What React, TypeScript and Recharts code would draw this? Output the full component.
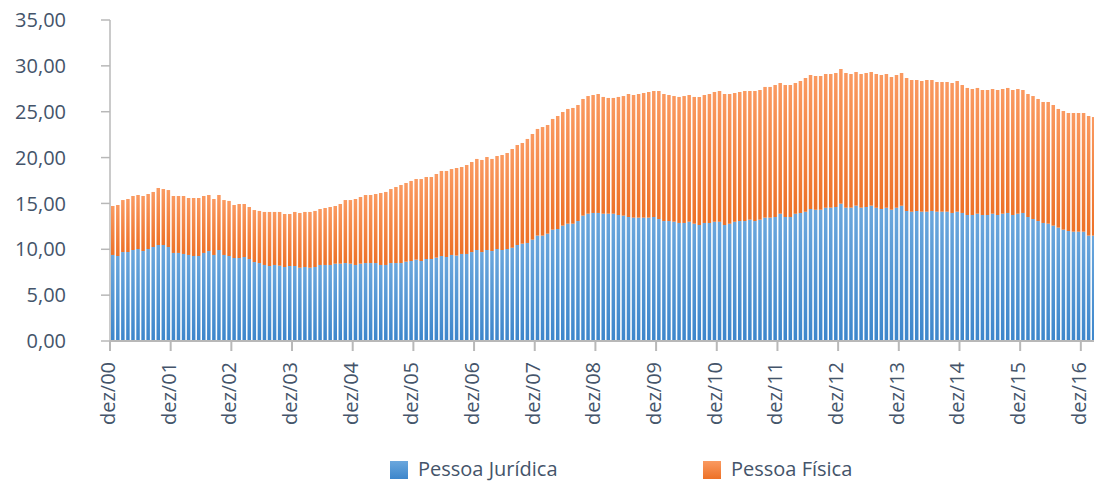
import { BarChart, Bar, XAxis, YAxis, Legend } from "recharts";

const MONTHS = ["jan", "fev", "mar", "abr", "mai", "jun", "jul", "ago", "set", "out", "nov", "dez"];

// Pessoa Jurídica, monthly from dez/00
const PJ = [
  9.38, 9.27, 9.7, 9.7, 9.92, 10.03, 9.81, 10.03, 10.25, 10.47, 10.47, 10.25,
  9.6, 9.6, 9.49, 9.38, 9.27, 9.27, 9.6, 9.81, 9.38, 9.92, 9.38, 9.27,
  9.05, 9.05, 9.16, 8.94, 8.61, 8.5, 8.29, 8.18, 8.29, 8.21, 8.07, 8.18,
  8.18, 7.99, 8.07, 7.99, 8.07, 8.29, 8.29, 8.29, 8.43, 8.43, 8.5, 8.43,
  8.29, 8.43, 8.5, 8.5, 8.5, 8.29, 8.29, 8.5, 8.5, 8.5, 8.65, 8.72,
  8.87, 8.72, 8.94, 8.94, 9.09, 9.27, 9.16, 9.38, 9.31, 9.49, 9.49, 9.7,
  9.92, 9.7, 9.92, 9.81, 10.03, 9.92, 10.03, 10.18, 10.47, 10.61, 10.69, 11.05,
  11.49, 11.49, 11.7, 12.14, 12.21, 12.58, 12.79, 12.79, 13.08, 13.67, 13.88, 13.96,
  13.96, 13.88, 13.88, 13.88, 13.74, 13.67, 13.52, 13.45, 13.45, 13.45, 13.45, 13.52,
  13.3, 13.08, 13.08, 13.01, 12.87, 12.87, 13.01, 12.79, 12.65, 12.87, 12.87, 13.01,
  13.01, 12.65, 12.79, 13.01, 13.08, 13.08, 13.23, 13.08, 13.23, 13.45, 13.45, 13.52,
  13.88, 13.52, 13.52, 13.88, 13.96, 14.1, 14.39, 14.32, 14.32, 14.54, 14.54, 14.61,
  14.97, 14.54, 14.54, 14.76, 14.54, 14.61, 14.76, 14.54, 14.39, 14.54, 14.32, 14.54,
  14.76, 14.18, 14.1, 14.18, 14.1, 14.1, 14.18, 14.1, 14.1, 14.1, 13.96, 14.1,
  13.96, 13.74, 13.74, 13.88, 13.74, 13.74, 13.88, 13.74, 13.88, 13.96, 13.74, 13.88,
  13.96, 13.52, 13.3, 13.08, 12.87, 12.79, 12.58, 12.36, 12.14, 11.99, 11.92, 11.92,
  11.92, 11.49, 11.49,
];

// Pessoa Física, monthly from dez/00
const PF = [
  5.34, 5.56, 5.67, 5.78, 5.89, 5.89, 6.0, 6.0, 6.0, 6.21, 6.1, 6.21,
  6.21, 6.21, 6.32, 6.21, 6.32, 6.32, 6.21, 6.11, 6.1, 6.0, 5.99, 6.0,
  5.78, 5.89, 5.78, 5.67, 5.67, 5.68, 5.78, 5.89, 5.78, 5.86, 5.78, 5.67,
  5.89, 5.97, 6.0, 6.08, 6.11, 6.1, 6.21, 6.32, 6.29, 6.51, 6.87, 6.94,
  7.19, 7.27, 7.42, 7.42, 7.53, 7.85, 7.96, 8.07, 8.29, 8.51, 8.58, 8.73,
  8.79, 8.94, 8.94, 8.94, 9.12, 9.27, 9.38, 9.37, 9.55, 9.48, 9.7, 9.82,
  9.93, 10.04, 10.14, 10.04, 10.14, 10.36, 10.47, 10.76, 10.9, 10.98, 11.34, 11.52,
  11.63, 11.84, 11.85, 12.07, 12.32, 12.39, 12.51, 12.62, 12.65, 12.72, 12.83, 12.86,
  12.97, 12.73, 12.62, 12.62, 12.87, 13.04, 13.41, 13.37, 13.48, 13.59, 13.7, 13.74,
  13.96, 13.85, 13.74, 13.7, 13.74, 13.84, 13.81, 13.82, 13.96, 13.95, 14.06, 14.14,
  14.25, 14.28, 14.14, 14.03, 14.07, 14.18, 14.03, 14.18, 14.14, 14.25, 14.25, 14.39,
  14.25, 14.39, 14.39, 14.25, 14.39, 14.58, 14.61, 14.58, 14.58, 14.57, 14.57, 14.61,
  14.69, 14.68, 14.57, 14.57, 14.57, 14.61, 14.57, 14.57, 14.61, 14.57, 14.47, 14.46,
  14.46, 14.5, 14.36, 14.28, 14.25, 14.36, 14.28, 14.14, 14.14, 14.14, 14.17, 14.25,
  13.95, 13.85, 13.74, 13.71, 13.63, 13.63, 13.6, 13.63, 13.6, 13.63, 13.63, 13.6,
  13.41, 13.41, 13.41, 13.31, 13.19, 13.27, 13.15, 12.94, 12.94, 12.87, 12.94, 12.94,
  12.94, 13.04, 12.93,
];

const Y_TICKS = [0, 5, 10, 15, 20, 25, 30, 35];

const FONT = "'Open Sans', sans-serif";
const TEXT = "#44546a";
const AXIS = "#b8b8b8";

const CHART_W = 1096;
const CHART_H = 482;
const Y_W = 110;

const labels = PJ.map((_, i) => {
  const m = (11 + i) % 12;
  const y = Math.floor((11 + i) / 12);
  return `${MONTHS[m]}/${String(y).padStart(2, "0")}`;
});

const data = labels.map((label, i) => ({ label, pj: PJ[i], pf: PF[i] }));
const xTicks = labels.filter((l) => l.startsWith("dez"));
const BAND = (CHART_W - Y_W) / labels.length;

function MonthTick({ x, y, payload }: any) {
  const left = x - BAND / 2;
  return (
    <g>
      <line x1={left} y1={y} x2={left} y2={y + 10} stroke={AXIS} strokeWidth={2} />
      <text
        transform={`translate(${left + 5},${y + 21}) rotate(-90)`}
        textAnchor="end"
        fill={TEXT}
        fontSize={20}
        fontFamily={FONT}
      >
        {payload.value}
      </text>
    </g>
  );
}

function LegendBox() {
  const items = [
    { name: "Pessoa Jurídica", left: 390, from: "#6ba7dd", to: "#3d86cb" },
    { name: "Pessoa Física", left: 703, from: "#fa9a61", to: "#ed7127" },
  ];
  return (
    <div style={{ position: "relative", height: 26, width: "100%" }}>
      {items.map((it) => (
        <div
          key={it.name}
          style={{
            position: "absolute",
            left: it.left,
            top: 0,
            height: 26,
            display: "flex",
            alignItems: "center",
            whiteSpace: "nowrap",
          }}
        >
          <span
            style={{
              display: "inline-block",
              width: 18,
              height: 18,
              marginTop: 2,
              background: `linear-gradient(${it.from}, ${it.to})`,
            }}
          />
          <span
            style={{
              marginLeft: 10,
              fontFamily: FONT,
              fontSize: 20,
              lineHeight: "26px",
              color: TEXT,
            }}
          >
            {it.name}
          </span>
        </div>
      ))}
    </div>
  );
}

export default function App() {
  return (
    <div
      style={{
        position: "fixed",
        left: 0,
        top: 0,
        width: 1094,
        height: 482,
        overflow: "hidden",
        background: "#fff",
      }}
    >
      <BarChart
        width={CHART_W}
        height={CHART_H}
        data={data}
        margin={{ top: 20, right: 0, bottom: 0, left: 0 }}
        barSize={3.5}
      >
        <defs>
          <linearGradient id="pjFill" x1="0" y1="0" x2="0" y2="1">
            <stop offset="0%" stopColor="#6ba7dd" />
            <stop offset="100%" stopColor="#3d86cb" />
          </linearGradient>
          <linearGradient id="pfFill" x1="0" y1="0" x2="0" y2="1">
            <stop offset="0%" stopColor="#fa9a61" />
            <stop offset="100%" stopColor="#ed7127" />
          </linearGradient>
        </defs>
        <XAxis
          dataKey="label"
          ticks={xTicks}
          interval={0}
          height={115}
          tickSize={0}
          tickMargin={0}
          tickLine={false}
          axisLine={{ stroke: AXIS, strokeWidth: 2 }}
          tick={<MonthTick />}
        />
        <YAxis
          width={Y_W}
          domain={[0, 35]}
          ticks={Y_TICKS}
          interval={0}
          tickSize={9}
          tickMargin={35}
          axisLine={{ stroke: AXIS, strokeWidth: 1.5 }}
          tickLine={{ stroke: AXIS, strokeWidth: 1.5 }}
          tick={{ fill: TEXT, fontSize: 20, fontFamily: FONT }}
          tickFormatter={(v: number) => v.toFixed(2).replace(".", ",")}
        />
        <Legend
          verticalAlign="bottom"
          height={26}
          content={<LegendBox />}
          wrapperStyle={{ height: 26 }}
        />
        <Bar dataKey="pj" name="Pessoa Jurídica" stackId="a" fill="url(#pjFill)" isAnimationActive={false} />
        <Bar dataKey="pf" name="Pessoa Física" stackId="a" fill="url(#pfFill)" isAnimationActive={false} />
      </BarChart>
    </div>
  );
}
